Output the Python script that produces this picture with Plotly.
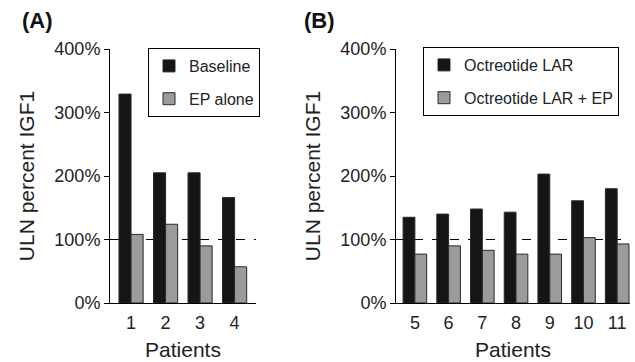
import plotly.graph_objects as go

# Panel A data
patients_a = [1, 2, 3, 4]
baseline = [329, 205, 205, 166]
ep_alone = [108, 124, 90, 57]

# Panel B data
patients_b = [5, 6, 7, 8, 9, 10, 11]
octreotide = [135, 140, 148, 143, 203, 161, 180]
octreotide_ep = [77, 90, 83, 77, 77, 103, 93]

y_ticks = [0, 100, 200, 300, 400]
y_tick_text = ["0%", "100%", "200%", "300%", "400%"]
uln_line = 100

W, H = 635, 362
FONT = "Arial, Liberation Sans, sans-serif"
BLACK = "#151515"
GRAY = "#9b9b9b"
EDGE = "#2a2a2a"

fig = go.Figure()

fig.add_trace(go.Bar(x=patients_a, y=baseline, name="Baseline", xaxis="x", yaxis="y",
                     marker=dict(color=BLACK, line=dict(color=EDGE, width=1)),
                     legend="legend", legendgroup="a1"))
fig.add_trace(go.Bar(x=patients_a, y=ep_alone, name="EP alone", xaxis="x", yaxis="y",
                     marker=dict(color=GRAY, line=dict(color=EDGE, width=1)),
                     legend="legend", legendgroup="a2"))
fig.add_trace(go.Bar(x=patients_b, y=octreotide, name="Octreotide LAR", xaxis="x2", yaxis="y2",
                     marker=dict(color=BLACK, line=dict(color=EDGE, width=1)),
                     legend="legend2", legendgroup="b1"))
fig.add_trace(go.Bar(x=patients_b, y=octreotide_ep, name="Octreotide LAR + EP", xaxis="x2", yaxis="y2",
                     marker=dict(color=GRAY, line=dict(color=EDGE, width=1)),
                     legend="legend2", legendgroup="b2"))

ydom = [59 / H, 313 / H]
xa_dom = [110 / W, 256 / W]
xb_dom = [396 / W, 630 / W]

axis_common = dict(showgrid=False, zeroline=False, showline=True, linecolor="black",
                   linewidth=1, automargin=False,
                   tickfont=dict(size=18, color="#222", family=FONT))

xaxis_extra = dict(ticks="outside", ticklen=3, tickcolor="rgba(0,0,0,0)",
                   title=dict(text="Patients", font=dict(size=21), standoff=10))
yaxis_extra = dict(range=[0, 400], tickvals=y_ticks, ticktext=y_tick_text,
                   ticks="outside", ticklen=5, tickcolor="black",
                   title=dict(text="ULN percent IGF1", font=dict(size=21), standoff=14))

fig.update_layout(
    width=W, height=H,
    margin=dict(l=0, r=0, t=0, b=0),
    paper_bgcolor="white", plot_bgcolor="white",
    font=dict(family=FONT, color="#222"),
    barmode="group", bargap=0.3, bargroupgap=0,
    xaxis=dict(domain=xa_dom, anchor="y", range=[0.39, 4.62], tickvals=patients_a,
               **xaxis_extra, **axis_common),
    yaxis=dict(domain=ydom, anchor="x", **yaxis_extra, **axis_common),
    xaxis2=dict(domain=xb_dom, anchor="y2", range=[4.44, 11.38], tickvals=patients_b,
                **xaxis_extra, **axis_common),
    yaxis2=dict(domain=ydom, anchor="x2", **yaxis_extra, **axis_common),
    legend=dict(x=148 / W, y=1 - 48 / H, xanchor="left", yanchor="top",
                bordercolor="black", borderwidth=1, bgcolor="white", entrywidth=84,
                font=dict(size=16, color="#222"), tracegroupgap=9, traceorder="grouped"),
    legend2=dict(x=423 / W, y=1 - 47 / H, xanchor="left", yanchor="top",
                 bordercolor="black", borderwidth=1, bgcolor="white",
                 font=dict(size=16, color="#222"), tracegroupgap=9, traceorder="grouped"),
    showlegend=True,
)

for xref, x0, x1 in [("x", 0.39, 4.62), ("x2", 4.44, 11.38)]:
    fig.add_shape(type="line", xref=xref, yref="y" if xref == "x" else "y2",
                  x0=x0, x1=x1, y0=uln_line, y1=uln_line, layer="below",
                  line=dict(color="black", width=1.2, dash="dash"))

fig.add_annotation(text="<b>(A)</b>", x=20 / W, y=1 - 6 / H, xref="paper", yref="paper",
                   xanchor="left", yanchor="top", showarrow=False,
                   font=dict(size=22, color="#111", family=FONT))
fig.add_annotation(text="<b>(B)</b>", x=302 / W, y=1 - 6 / H, xref="paper", yref="paper",
                   xanchor="left", yanchor="top", showarrow=False,
                   font=dict(size=22, color="#111", family=FONT))

fig.write_html("out.html", config={"displayModeBar": False},
               post_script="document.body.style.margin='0';")
